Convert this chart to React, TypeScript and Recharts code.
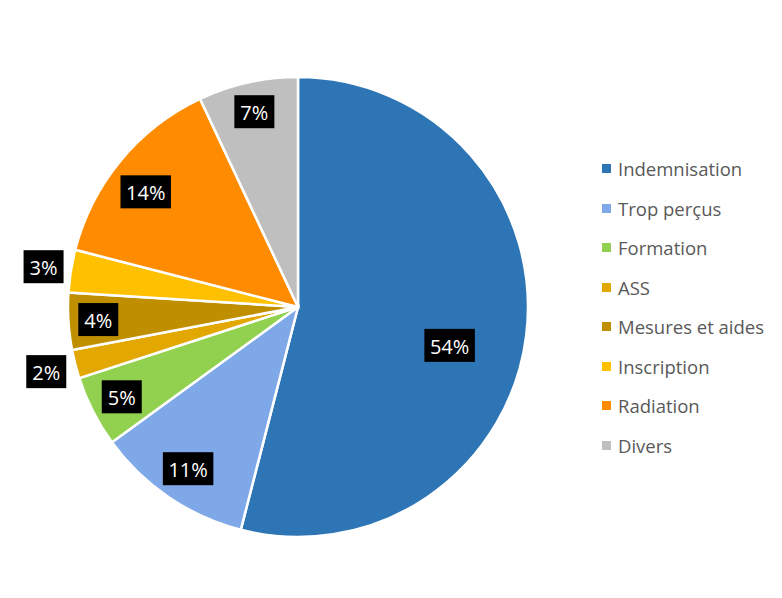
import { PieChart, Pie, Cell, Legend } from "recharts";

const categories = [
  "Indemnisation",
  "Trop perçus",
  "Formation",
  "ASS",
  "Mesures et aides",
  "Inscription",
  "Radiation",
  "Divers",
];
const shares = [54, 11, 5, 2, 4, 3, 14, 7];

const COLORS = [
  "#2E75B6",
  "#7FA8E8",
  "#92D050",
  "#E2A700",
  "#BF8F00",
  "#FFC000",
  "#FF8C00",
  "#BFBFBF",
];

// where each label sits: share of the radius, and a small turn off the mid angle
const LABEL_POS = [0.68, 0.85, 0.86, 1.13, 0.87, 1.12, 0.83, 0.87];
const LABEL_TURN = [-7, 0, 0, 0, 0, 0, 2.5, 0];

const RADIAN = Math.PI / 180;

const data = categories.map((name, i) => ({ name, value: shares[i] }));

function renderLabel(props: any) {
  const { cx, cy, midAngle, outerRadius, index, value } = props;
  const r = outerRadius * LABEL_POS[index];
  const a = (midAngle + LABEL_TURN[index]) * RADIAN;
  const x = cx + r * Math.cos(-a);
  const y = cy + r * Math.sin(-a);
  const text = `${value}%`;
  const w = text.length * 10.5 + 19;
  const h = 33;
  return (
    <g>
      <rect x={x - w / 2} y={y - h / 2} width={w} height={h} fill="#000" />
      <text
        x={x}
        y={y + 1}
        fill="#fff"
        fontSize={20}
        textAnchor="middle"
        dominantBaseline="central"
        fontFamily="'Open Sans', sans-serif"
      >
        {text}
      </text>
    </g>
  );
}

function renderLegend() {
  return (
    <div style={{ fontFamily: "'Open Sans', sans-serif" }}>
      {data.map((d, i) => (
        <div
          key={d.name}
          style={{ display: "flex", alignItems: "center", height: 39.5 }}
        >
          <div
            style={{ width: 9, height: 9, background: COLORS[i], marginRight: 7 }}
          />
          <span style={{ fontSize: 18.5, color: "#595959" }}>{d.name}</span>
        </div>
      ))}
    </div>
  );
}

export default function App() {
  return (
    <div style={{ position: "absolute", left: 0, top: 0, background: "#fff" }}>
      <PieChart
        width={782}
        height={598}
        margin={{ top: 0, right: 0, bottom: 0, left: 0 }}
      >
        <Pie
          data={data}
          dataKey="value"
          cx={298}
          cy={307}
          outerRadius={230}
          startAngle={90}
          endAngle={-270}
          stroke="#fff"
          strokeWidth={2.5}
          label={renderLabel}
          labelLine={false}
          isAnimationActive={false}
        >
          {data.map((_, i) => (
            <Cell key={i} fill={COLORS[i]} />
          ))}
        </Pie>
        <Legend
          content={renderLegend}
          wrapperStyle={{ position: "absolute", left: 602, top: 149, width: 180 }}
        />
      </PieChart>
    </div>
  );
}
